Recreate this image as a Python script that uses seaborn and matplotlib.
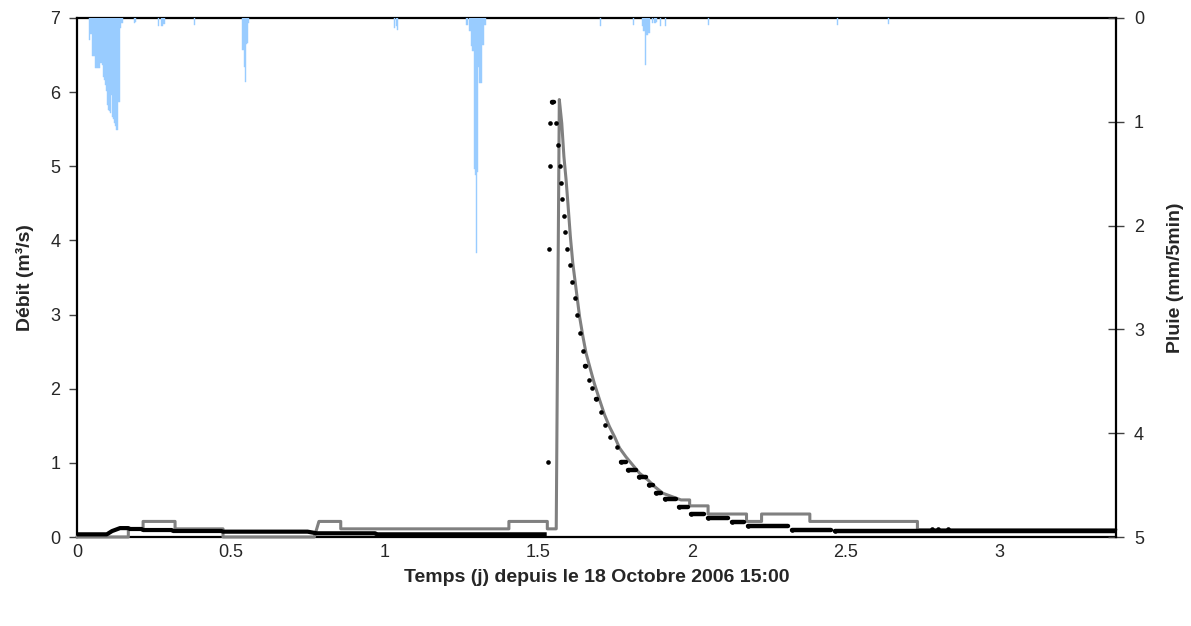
import numpy as np
import pandas as pd
import matplotlib
matplotlib.use("Agg")
import matplotlib.pyplot as plt
import seaborn as sns

# ---------------- data ----------------
# rain: 5-minute step index since start, depth (mm/5min)
rain_k = [11, 12, 13, 14, 15, 16, 17, 18, 19, 20, 21, 22, 23, 24, 25, 26, 27, 28, 29, 30,
          31, 32, 33, 34, 35, 36, 37, 38, 39, 40, 41, 42,
          53, 54, 76, 79, 80, 81, 110,
          155, 156, 157, 158, 159, 160,
          297, 299, 300,
          364, 365, 367, 368, 369, 370, 371, 372, 373, 374, 375, 376, 377, 378, 379, 380, 381, 382,
          490, 521, 529, 530, 531, 532, 533, 534, 535, 536, 539, 541, 542, 546, 551, 591,
          712, 760]
rain_mm = [0.21, 0.15, 0.15, 0.37, 0.37, 0.37, 0.48, 0.48, 0.48, 0.48, 0.48, 0.43, 0.45, 0.57,
           0.60, 0.65, 0.70, 0.84, 0.89, 0.90, 0.92, 0.74, 0.95, 0.97, 1.01, 1.04, 1.08, 0.81,
           0.81, 0.10, 0.05, 0.05,
           0.05, 0.04, 0.08, 0.08, 0.08, 0.06, 0.07,
           0.31, 0.47, 0.62, 0.25, 0.24, 0.05,
           0.10, 0.08, 0.12,
           0.07, 0.07, 0.13, 0.13, 0.27, 0.32, 0.32, 1.45, 1.51, 2.26, 1.48, 0.47, 0.63, 0.63,
           0.26, 0.26, 0.07, 0.07,
           0.08, 0.07, 0.08, 0.13, 0.13, 0.45, 0.16, 0.16, 0.14, 0.14, 0.05, 0.05, 0.04, 0.08,
           0.08, 0.07,
           0.07, 0.06]

# simulated discharge (m3/s)
sim_t = [0.0, 0.167, 0.167, 0.215, 0.215, 0.319, 0.319, 0.475, 0.475, 0.772, 0.787, 0.858,
         0.858, 1.405, 1.405, 1.530, 1.530, 1.559, 1.569, 1.577, 1.584, 1.591, 1.597, 1.605,
         1.613, 1.624, 1.635, 1.646, 1.656, 1.671, 1.683, 1.700, 1.716, 1.732, 1.749, 1.765,
         1.786, 1.808, 1.830, 1.857, 1.879, 1.906, 1.965, 1.993, 1.993, 2.053, 2.053, 2.178,
         2.178, 2.227, 2.227, 2.384, 2.384, 2.734, 2.734, 3.38]
sim_q = [0.0, 0.0, 0.11, 0.11, 0.21, 0.21, 0.11, 0.11, 0.0, 0.0, 0.21, 0.21,
         0.11, 0.11, 0.21, 0.21, 0.11, 0.11, 5.90, 5.58, 5.13, 4.82, 4.50, 4.05,
         3.69, 3.33, 2.97, 2.70, 2.48, 2.25, 2.07, 1.85, 1.65, 1.49, 1.35, 1.20,
         1.08, 0.97, 0.86, 0.77, 0.68, 0.59, 0.50, 0.50, 0.42, 0.42, 0.31, 0.31,
         0.21, 0.21, 0.31, 0.31, 0.21, 0.21, 0.10, 0.10]

# observed discharge, base flow before the flood
obs_base_t = [0.0, 0.097, 0.114, 0.140, 0.167, 0.172, 0.21, 0.215, 0.308, 0.313, 0.47,
              0.475, 0.75, 0.78, 0.97, 0.975, 1.528]
obs_base_q = [0.036, 0.036, 0.08, 0.12, 0.12, 0.108, 0.108, 0.094, 0.094, 0.081, 0.081,
              0.072, 0.072, 0.05, 0.05, 0.036, 0.036]

# observed discharge, flood: plateaus (start, end, level)
obs_start = [1.532, 1.537, 1.538, 1.540, 1.546, 1.559, 1.564, 1.570, 1.575, 1.578, 1.584,
             1.589, 1.594, 1.603, 1.611, 1.619, 1.627, 1.636, 1.645, 1.653, 1.664, 1.675,
             1.688, 1.705, 1.719, 1.734, 1.756, 1.771, 1.793, 1.828, 1.860, 1.883, 1.912,
             1.958, 1.997, 2.054, 2.130, 2.184, 2.325, 2.465, 2.78, 2.80, 2.835]
obs_end = [1.532, 1.537, 1.538, 1.540, 1.553, 1.559, 1.564, 1.570, 1.575, 1.578, 1.584,
           1.589, 1.594, 1.603, 1.611, 1.619, 1.627, 1.636, 1.645, 1.657, 1.664, 1.675,
           1.691, 1.705, 1.719, 1.734, 1.756, 1.785, 1.818, 1.850, 1.873, 1.899, 1.948,
           1.987, 2.041, 2.117, 2.171, 2.312, 2.452, 3.38, 2.78, 2.80, 2.835]
obs_level = [1.01, 3.89, 5.00, 5.59, 5.87, 5.59, 5.29, 5.00, 4.78, 4.56, 4.33,
             4.11, 3.89, 3.67, 3.44, 3.22, 3.00, 2.75, 2.51, 2.31, 2.12, 2.01,
             1.86, 1.68, 1.51, 1.35, 1.21, 1.01, 0.90, 0.81, 0.70, 0.60, 0.51,
             0.40, 0.31, 0.25, 0.20, 0.15, 0.10, 0.085, 0.11, 0.11, 0.11]

x_ticks = [0, 0.5, 1, 1.5, 2, 2.5, 3]
x_tick_labels = ["0", "0.5", "1", "1.5", "2", "2.5", "3"]
q_ticks = [0, 1, 2, 3, 4, 5, 6, 7]
p_ticks = [0, 1, 2, 3, 4, 5]

# ---------------- style ----------------
sns.set_style("white")
plt.rcParams['font.family'] = ['Liberation Sans', 'DejaVu Sans']

W, H = 1191, 626
L, R, T, B = 77, 1116, 18, 537
fig = plt.figure(figsize=(W / 100, H / 100), dpi=100)
ax = fig.add_axes([L / W, 1 - B / H, (R - L) / W, (B - T) / H])

# simulated
sim_df = pd.DataFrame({"t": sim_t, "q": sim_q})
sns.lineplot(data=sim_df, x="t", y="q", ax=ax, sort=False, color="#808080",
             linewidth=2.2, estimator=None, zorder=3, clip_on=False)

# observed base flow
base_df = pd.DataFrame({"t": obs_base_t, "q": obs_base_q})
sns.lineplot(data=base_df, x="t", y="q", ax=ax, sort=False, color="black",
             linewidth=3.0, estimator=None, zorder=4, solid_capstyle="butt")

# observed flood plateaus
n = len(obs_start)
seg_df = pd.DataFrame({
    "seg": list(range(n)) * 2,
    "t": list(obs_start) + list(obs_end),
    "q": list(obs_level) * 2,
})
sns.lineplot(data=seg_df, x="t", y="q", units="seg", estimator=None, ax=ax, sort=False,
             color="black", linewidth=3.2, zorder=4, solid_capstyle="round")
pts_df = pd.DataFrame({"t": obs_start, "q": obs_level})
sns.scatterplot(data=pts_df, x="t", y="q", ax=ax, color="black", s=11, linewidth=0, zorder=5)

ax.set_xlim(0, 3.38)
ax.set_ylim(0, 7)
ax.set_xticks(x_ticks)
ax.set_xticklabels(x_tick_labels)
ax.set_yticks(q_ticks)
ax.set_yticklabels([str(v) for v in q_ticks])
ax.set_xlabel("Temps (j) depuis le 18 Octobre 2006 15:00", fontsize=14, fontweight="bold")
ax.set_ylabel("Débit (m³/s)", fontsize=14, fontweight="bold")
ax.xaxis.label.set_va("center")
ax.xaxis.set_label_coords(0.5, (B - 578) / (B - T))
ax.yaxis.label.set_va("center")
ax.yaxis.set_label_coords((25 - L) / (R - L), 0.5)
ax.tick_params(axis="y", which="major", labelsize=13, direction="out", length=6,
               width=1, color="#404040", pad=6)
ax.tick_params(axis="x", which="major", labelsize=13, direction="out", length=5,
               width=1, color="#404040", pad=0)
for s in ax.spines.values():
    s.set_linewidth(1.6)
    s.set_color("black")
    s.set_zorder(2.5)
ax.spines["right"].set_visible(False)

# rain on secondary axis
ax2 = ax.twinx()
rain_t = [k / 288 for k in rain_k]
ax2.bar(rain_t, rain_mm, width=1 / 288, align="edge", color="#99CCFF",
        edgecolor="#99CCFF", linewidth=0.3, zorder=1)
ax2.set_ylim(5, 0)
ax2.set_xlim(0, 3.38)
ax2.set_yticks(p_ticks)
ax2.set_yticklabels([str(v) for v in p_ticks])
ax2.set_ylabel("Pluie (mm/5min)", fontsize=14, fontweight="bold")
ax2.yaxis.label.set_va("center")
ax2.yaxis.set_label_coords((1175 - L) / (R - L), 0.5)
ax2.tick_params(axis="y", labelsize=13, direction="inout", length=12, width=1,
                color="#404040", pad=7)
for name, s in ax2.spines.items():
    if name == "right":
        s.set_linewidth(1.6)
        s.set_color("black")
    else:
        s.set_visible(False)
ax2.grid(False)
ax.grid(False)

fig.savefig("out.png", dpi=100)
